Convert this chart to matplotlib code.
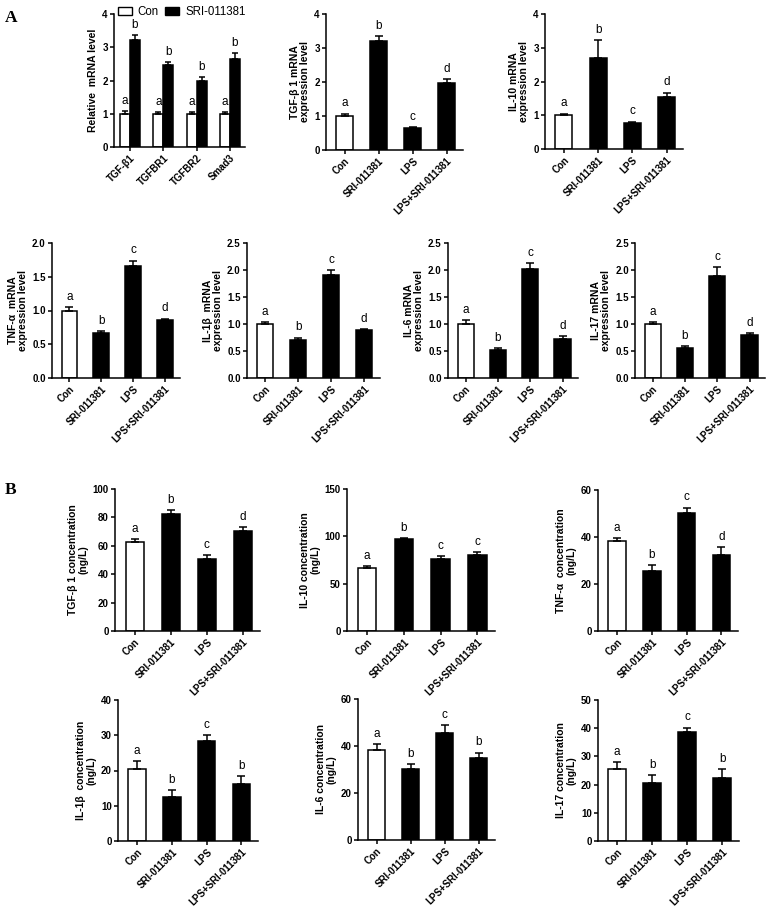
import matplotlib
matplotlib.use("Agg")
import matplotlib.pyplot as plt
from matplotlib.patches import Patch

plt.rcParams['font.family'] = ['Liberation Sans', 'DejaVu Sans']
plt.rcParams['axes.linewidth'] = 1.1

# Groups
groups = ["Con", "SRI-011381", "LPS", "LPS+SRI-011381"]
genes = ["TGF-β1", "TGFBR1", "TGFBR2", "Smad3"]

# Panel A, first chart: relative mRNA of pathway genes
rel_con = [1.0, 1.0, 1.0, 1.0]
rel_con_err = [0.07, 0.04, 0.04, 0.05]
rel_sri = [3.22, 2.46, 1.99, 2.66]
rel_sri_err = [0.15, 0.10, 0.11, 0.17]
rel_con_lab = ["a", "a", "a", "a"]
rel_sri_lab = ["b", "b", "b", "b"]

# Panel A, mRNA expression levels (Con, SRI, LPS, LPS+SRI)
tgf_mrna = [1.01, 3.20, 0.64, 1.98]
tgf_mrna_err = [0.06, 0.16, 0.04, 0.10]
il10_mrna = [1.0, 2.69, 0.76, 1.55]
il10_mrna_err = [0.05, 0.54, 0.05, 0.12]
tnf_mrna = [1.0, 0.67, 1.66, 0.86]
tnf_mrna_err = [0.05, 0.03, 0.08, 0.02]
il1b_mrna = [1.0, 0.71, 1.90, 0.88]
il1b_mrna_err = [0.03, 0.04, 0.10, 0.02]
il6_mrna = [1.0, 0.52, 2.02, 0.73]
il6_mrna_err = [0.08, 0.04, 0.11, 0.04]
il17_mrna = [1.0, 0.55, 1.88, 0.79]
il17_mrna_err = [0.04, 0.04, 0.18, 0.04]

# Panel B, serum concentrations (ng/L)
tgf_conc = [62.4, 82.6, 50.6, 70.6]
tgf_conc_err = [2.3, 2.4, 3.0, 2.6]
il10_conc = [66.4, 97.0, 75.9, 80.8]
il10_conc_err = [2.4, 1.5, 3.5, 2.9]
tnf_conc = [38.3, 25.6, 50.4, 32.3]
tnf_conc_err = [1.4, 2.4, 2.1, 3.3]
il1b_conc = [20.4, 12.4, 28.3, 16.3]
il1b_conc_err = [2.2, 2.0, 1.7, 2.0]
il6_conc = [38.2, 30.1, 45.5, 34.8]
il6_conc_err = [2.5, 2.1, 3.4, 2.4]
il17_conc = [25.4, 20.5, 38.5, 22.5]
il17_conc_err = [2.6, 3.0, 1.7, 2.9]

W, H = 778, 916
TICK_FS = 7
LAB_FS = 7.5
fig = plt.figure(figsize=(W / 100, H / 100), dpi=100)


def make_ax(x0, x1, y0, y1):
    ax = fig.add_axes([x0 / W, 1 - y1 / H, (x1 - x0) / W, (y1 - y0) / H])
    ax.spines['top'].set_visible(False)
    ax.spines['right'].set_visible(False)
    ax.tick_params(axis='both', length=3, width=1.1, labelsize=TICK_FS, pad=1.5)
    return ax


def letter(ax, x, y, s):
    ax.annotate(s, (x, y), xytext=(0, 3), textcoords='offset points',
                ha='center', va='bottom', fontsize=8.5)


def four_bar(ax, vals, errs, labels, ylim, yticks, ylabel, fmt="{:g}"):
    xs = range(len(groups))
    colors = ["white", "black", "black", "black"]
    ax.bar(xs, vals, width=0.5, color=colors, edgecolor="black", linewidth=1.1, zorder=2)
    ax.errorbar(xs, vals, yerr=[[0] * len(vals), errs], fmt='none', ecolor='black',
                elinewidth=1.1, capsize=3, capthick=1.1, zorder=3)
    for x, v, e, s in zip(xs, vals, errs, labels):
        letter(ax, x, v + e, s)
    ax.set_xlim(-0.55, 3.48)
    ax.set_ylim(*ylim)
    ax.set_yticks(yticks)
    ax.set_yticklabels([fmt.format(t) for t in yticks], fontweight='bold', fontsize=TICK_FS)
    ax.set_xticks(list(xs))
    ax.set_xticklabels(groups, rotation=45, ha='right', rotation_mode='anchor',
                       fontweight='bold', fontsize=TICK_FS)
    ax.set_ylabel(ylabel, fontsize=LAB_FS, fontweight='bold', labelpad=3, linespacing=1.05)


# ---- Panel A, chart 1 (grouped) ----
ax = make_ax(114, 245, 14, 147)
xs = list(range(len(genes)))
bw = 0.3
xc = [x - bw / 2 for x in xs]
xs2 = [x + bw / 2 for x in xs]
ax.bar(xc, rel_con, width=bw, color="white", edgecolor="black", linewidth=1.1, zorder=2)
ax.bar(xs2, rel_sri, width=bw, color="black", edgecolor="black", linewidth=1.1, zorder=2)
ax.errorbar(xc, rel_con, yerr=[[0] * 4, rel_con_err], fmt='none', ecolor='black',
            elinewidth=1.1, capsize=2.5, capthick=1.1, zorder=3)
ax.errorbar(xs2, rel_sri, yerr=[[0] * 4, rel_sri_err], fmt='none', ecolor='black',
            elinewidth=1.1, capsize=2.5, capthick=1.1, zorder=3)
for x, v, e, s in zip(xc, rel_con, rel_con_err, rel_con_lab):
    letter(ax, x, v + e, s)
for x, v, e, s in zip(xs2, rel_sri, rel_sri_err, rel_sri_lab):
    letter(ax, x, v + e, s)
ax.set_xlim(-0.48, 3.45)
ax.set_ylim(0, 4)
ax.set_yticks([0, 1, 2, 3, 4])
ax.set_yticklabels(["0", "1", "2", "3", "4"], fontweight='bold', fontsize=TICK_FS)
ax.set_xticks(xs)
ax.set_xticklabels(genes, rotation=45, ha='right', rotation_mode='anchor',
                   fontweight='bold', fontsize=TICK_FS)
ax.set_ylabel("Relative  mRNA level", fontsize=LAB_FS, fontweight='bold', labelpad=3)
handles = [Patch(facecolor="white", edgecolor="black", linewidth=1.0, label="Con"),
           Patch(facecolor="black", edgecolor="black", label="SRI-011381")]
ax.legend(handles=handles, ncol=2, frameon=False, fontsize=8.3, loc='lower left',
          bbox_to_anchor=(0.02, 0.96), handlelength=1.2, handleheight=0.75,
          handletextpad=0.5, columnspacing=0.6, borderaxespad=0, borderpad=0.1)

# ---- Panel A, remaining charts ----
ticks4 = [0, 1, 2, 3, 4]
ticks2 = [0.0, 0.5, 1.0, 1.5, 2.0]
ticks25 = [0.0, 0.5, 1.0, 1.5, 2.0, 2.5]
abcd = ["a", "b", "c", "d"]

four_bar(make_ax(326, 463, 14, 150), tgf_mrna, tgf_mrna_err, abcd, (0, 4), ticks4,
         "TGF-β 1 mRNA\nexpression level")
four_bar(make_ax(545, 683, 14, 149), il10_mrna, il10_mrna_err, abcd, (0, 4), ticks4,
         "IL-10 mRNA\nexpression level")
four_bar(make_ax(52, 180, 243, 378), tnf_mrna, tnf_mrna_err, abcd, (0, 2.0), ticks2,
         "TNF-α  mRNA\nexpression level", "{:.1f}")
four_bar(make_ax(247, 380, 243, 378), il1b_mrna, il1b_mrna_err, abcd, (0, 2.5), ticks25,
         "IL-1β  mRNA\nexpression level", "{:.1f}")
four_bar(make_ax(448, 578, 243, 378), il6_mrna, il6_mrna_err, abcd, (0, 2.5), ticks25,
         "IL-6 mRNA\nexpression level", "{:.1f}")
four_bar(make_ax(635, 765, 243, 378), il17_mrna, il17_mrna_err, abcd, (0, 2.5), ticks25,
         "IL-17 mRNA\nexpression level", "{:.1f}")

# ---- Panel B ----
four_bar(make_ax(115, 260, 489, 631), tgf_conc, tgf_conc_err, abcd, (0, 100),
         [0, 20, 40, 60, 80, 100], "TGF-β 1 concentration\n(ng/L)")
four_bar(make_ax(347, 495, 489, 631), il10_conc, il10_conc_err, ["a", "b", "c", "c"],
         (0, 150), [0, 50, 100, 150], "IL-10 concentration\n(ng/L)")
four_bar(make_ax(598, 738, 490, 631), tnf_conc, tnf_conc_err, abcd, (0, 60),
         [0, 20, 40, 60], "TNF-α  concentration\n(ng/L)")
four_bar(make_ax(118, 258, 700, 841), il1b_conc, il1b_conc_err, ["a", "b", "c", "b"],
         (0, 40), [0, 10, 20, 30, 40], "IL-1β  concentration\n(ng/L)")
four_bar(make_ax(358, 495, 699, 840), il6_conc, il6_conc_err, ["a", "b", "c", "b"],
         (0, 60), [0, 20, 40, 60], "IL-6 concentration\n(ng/L)")
four_bar(make_ax(598, 739, 700, 841), il17_conc, il17_conc_err, ["a", "b", "c", "b"],
         (0, 50), [0, 10, 20, 30, 40, 50], "IL-17 concentration\n(ng/L)")

# panel letters
fig.text(5 / W, 1 - 18 / H, "A", family=['Liberation Serif', 'DejaVu Serif'],
         fontweight='bold', fontsize=12.5, va='center')
fig.text(5 / W, 1 - 490 / H, "B", family=['Liberation Serif', 'DejaVu Serif'],
         fontweight='bold', fontsize=12.5, va='center')

fig.savefig("out.png", dpi=100, facecolor="white")
